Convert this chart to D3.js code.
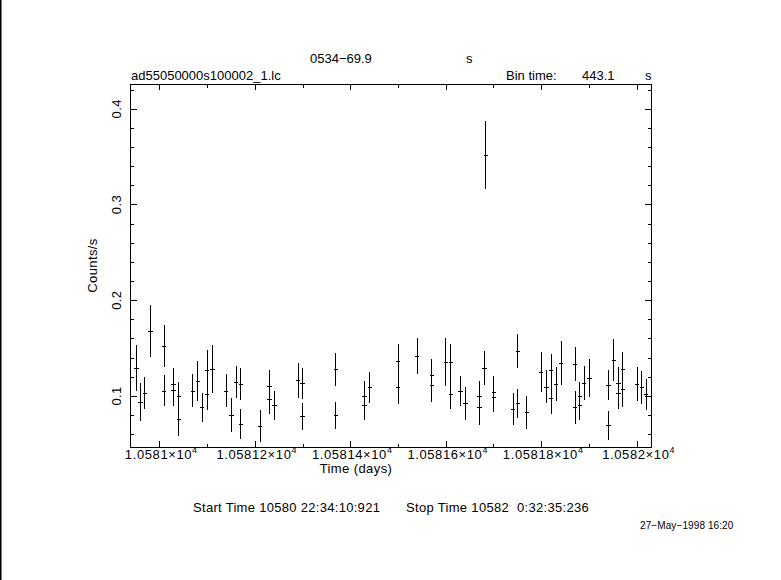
<!DOCTYPE html>
<html>
<head>
<meta charset="utf-8">
<script src="https://cdn.jsdelivr.net/npm/d3@7"></script>
<style>
  html, body { margin: 0; padding: 0; background: #fff; }
  svg { display: block; }
  text { font-family: "Liberation Sans", Arial, sans-serif; fill: #000; white-space: pre; }
</style>
</head>
<body>
<svg id="chart" width="781" height="580"></svg>
<script>
// ---- data (time in days, rate in counts/s, symmetric 1-sigma error) ----
const times = [
  10580.951, 10580.960, 10580.969, 10580.981, 10581.009, 10581.009, 10581.029, 10581.029,
  10581.040, 10581.040, 10581.069, 10581.080, 10581.089, 10581.099, 10581.099, 10581.110,
  10581.139, 10581.150, 10581.160, 10581.170, 10581.170, 10581.210, 10581.230, 10581.230,
  10581.240, 10581.290, 10581.299, 10581.299, 10581.369, 10581.369, 10581.429, 10581.429,
  10581.440, 10581.499, 10581.499, 10581.539, 10581.570, 10581.570, 10581.599, 10581.610,
  10581.610, 10581.630, 10581.640, 10581.670, 10581.670, 10581.680, 10581.683, 10581.700,
  10581.700, 10581.740, 10581.750, 10581.750, 10581.769, 10581.799, 10581.810, 10581.820,
  10581.820, 10581.830, 10581.841, 10581.870, 10581.870, 10581.880, 10581.880, 10581.889,
  10581.900, 10581.940, 10581.940, 10581.951, 10581.961, 10581.961, 10581.970, 10581.970,
  10582.000, 10582.010, 10582.019
];
const rates = [
  0.1288, 0.0933, 0.1030, 0.1678, 0.1518, 0.1054, 0.1124, 0.1062,
  0.0996, 0.0759, 0.1054, 0.1156, 0.0881, 0.1267, 0.1017, 0.1278,
  0.1054, 0.0800, 0.1145, 0.1124, 0.0706, 0.0685, 0.1107, 0.0968,
  0.0902, 0.1163, 0.1132, 0.0787, 0.1278, 0.0797, 0.0996, 0.0902,
  0.1090, 0.1362, 0.1090, 0.1414, 0.1215, 0.1111, 0.1354, 0.1354,
  0.1020, 0.1051, 0.0923, 0.0996, 0.0881, 0.1292, 0.3517, 0.1038,
  0.0989, 0.0863, 0.1469, 0.0923, 0.0829, 0.1250, 0.1098, 0.1271,
  0.0975, 0.1124, 0.1347, 0.1333, 0.0881, 0.0999, 0.0905, 0.1135,
  0.1187, 0.1114, 0.0693, 0.1372, 0.1132, 0.1027, 0.1281, 0.1069,
  0.1124, 0.1090, 0.1017
];
const errors = [
  0.024, 0.020, 0.017, 0.027, 0.022, 0.016, 0.017, 0.017,
  0.015, 0.018, 0.017, 0.021, 0.015, 0.021, 0.016, 0.025,
  0.017, 0.018, 0.017, 0.017, 0.016, 0.017, 0.016, 0.016,
  0.015, 0.018, 0.016, 0.014, 0.017, 0.014, 0.016, 0.015,
  0.016, 0.018, 0.017, 0.019, 0.017, 0.017, 0.025, 0.019,
  0.016, 0.016, 0.017, 0.016, 0.018, 0.018, 0.036, 0.017,
  0.016, 0.017, 0.018, 0.015, 0.017, 0.021, 0.017, 0.017,
  0.016, 0.018, 0.023, 0.018, 0.017, 0.015, 0.016, 0.018,
  0.020, 0.016, 0.015, 0.022, 0.017, 0.016, 0.018, 0.019,
  0.018, 0.017, 0.016
];
const binTimeSec = 443.1;

const xMajorTicks = [10581.0, 10581.2, 10581.4, 10581.6, 10581.8, 10582.0];
const xTickLabels = ["1.0581", "1.05812", "1.05814", "1.05816", "1.05818", "1.0582"];
const xMinorTicks = [10581.1, 10581.3, 10581.5, 10581.7, 10581.9];
const yMajorTicks = [0.1, 0.2, 0.3, 0.4];
const yTickLabels = ["0.1", "0.2", "0.3", "0.4"];
const yMinorTicks = [0.06, 0.08, 0.12, 0.14, 0.16, 0.18, 0.22, 0.24, 0.26, 0.28, 0.32, 0.34, 0.36, 0.38, 0.42];

const titleText = "0534\u221269.9";
const fileText = "ad55050000s100002_1.lc";

// ---- layout ----
const L = 130.5, R = 651, T = 84, B = 447;
const svg = d3.select("#chart");

const x = d3.scaleLinear().domain([10580.9397, 10582.0300]).range([L, R]);
const y = d3.scaleLinear().domain([0.0466, 0.4259]).range([B, T]);

// left edge black line
svg.append("rect").attr("x", 0).attr("y", 0).attr("width", 1.5).attr("height", 580).attr("fill", "#000");

// frame
svg.append("rect")
  .attr("x", L).attr("y", T).attr("width", R - L).attr("height", B - T)
  .attr("fill", "none").attr("stroke", "#000").attr("stroke-width", 1)
  .attr("shape-rendering", "crispEdges");

const g = svg.append("g").attr("stroke", "#000").attr("stroke-width", 1).attr("shape-rendering", "crispEdges");
const MAJ = 6, MIN = 3.5;

function xt(vals, len) {
  g.selectAll(null).data(vals).enter().append("line")
    .attr("x1", d => Math.round(x(d)) + 0.5).attr("x2", d => Math.round(x(d)) + 0.5)
    .attr("y1", B).attr("y2", B - len);
  g.selectAll(null).data(vals).enter().append("line")
    .attr("x1", d => Math.round(x(d)) + 0.5).attr("x2", d => Math.round(x(d)) + 0.5)
    .attr("y1", T).attr("y2", T + len);
}
xt(xMajorTicks, MAJ); xt(xMinorTicks, MIN);

function yt(vals, len) {
  g.selectAll(null).data(vals).enter().append("line")
    .attr("y1", d => Math.round(y(d)) + 0.5).attr("y2", d => Math.round(y(d)) + 0.5)
    .attr("x1", L).attr("x2", L + len);
  g.selectAll(null).data(vals).enter().append("line")
    .attr("y1", d => Math.round(y(d)) + 0.5).attr("y2", d => Math.round(y(d)) + 0.5)
    .attr("x1", R).attr("x2", R - len);
}
yt(yMajorTicks, MAJ); yt(yMinorTicks.filter(v => y(v) > T && y(v) < B), MIN);

// x tick labels
const xl = svg.selectAll(".xl").data(xMajorTicks).enter().append("text")
  .attr("class", "xl")
  .attr("x", d => x(d) + 2)
  .attr("y", 459)
  .attr("text-anchor", "middle")
  .attr("font-size", 13)
  .attr("letter-spacing", 0.6);
xl.append("tspan").text((d, i) => xTickLabels[i] + "\u00d710");
xl.append("tspan").attr("dy", -6).attr("font-size", 9).text("4");

// y tick labels (rotated)
svg.selectAll(".yl").data(yMajorTicks).enter().append("text")
  .attr("class", "yl")
  .attr("transform", d => `translate(121,${y(d)}) rotate(-90)`)
  .attr("text-anchor", "middle")
  .attr("font-size", 13)
  .attr("letter-spacing", 0.4)
  .text((d, i) => yTickLabels[i]);

// axis titles
svg.append("text").attr("transform", `translate(97,${(T + B) / 2}) rotate(-90)`)
  .attr("text-anchor", "middle").attr("font-size", 13).attr("letter-spacing", 0.4).text("Counts/s");
svg.append("text").attr("x", 356).attr("y", 473).attr("text-anchor", "middle")
  .attr("font-size", 13).attr("letter-spacing", 0.4).text("Time (days)");

// header texts
svg.append("text").attr("x", 310).attr("y", 63).attr("font-size", 13).text(titleText);
svg.append("text").attr("x", 466).attr("y", 63).attr("font-size", 13).text("s");
svg.append("text").attr("x", 131).attr("y", 80).attr("font-size", 13).text(fileText);
svg.append("text").attr("x", 506).attr("y", 80).attr("font-size", 13).text("Bin time:");
svg.append("text").attr("x", 582).attr("y", 80).attr("font-size", 13).text(String(binTimeSec));
svg.append("text").attr("x", 645).attr("y", 80).attr("font-size", 13).text("s");

// footer texts
svg.append("text").attr("x", 193).attr("y", 512).attr("font-size", 13).attr("letter-spacing", 0.3)
  .text("Start Time 10580 22:34:10:921");
svg.append("text").attr("x", 406).attr("y", 512).attr("font-size", 13).attr("letter-spacing", 0.32)
  .text("Stop Time 10582  0:32:35:236");
svg.append("text").attr("x", 640).attr("y", 529).attr("font-size", 10).attr("letter-spacing", 0.1)
  .text("27\u2212May\u22121998 16:20");

// data: error bars + bin-width ticks
const data = times.map((t, i) => ({ t, v: rates[i], e: errors[i] }));
const halfBin = binTimeSec / 86400 / 2;
const pts = svg.append("g").attr("stroke", "#000").attr("stroke-width", 1).attr("shape-rendering", "crispEdges");
pts.selectAll(".eb").data(data).enter().append("line")
  .attr("x1", d => Math.round(x(d.t)) + 0.5).attr("x2", d => Math.round(x(d.t)) + 0.5)
  .attr("y1", d => y(d.v + d.e)).attr("y2", d => y(d.v - d.e));
pts.selectAll(".bw").data(data).enter().append("line")
  .attr("x1", d => x(d.t - halfBin) - 0.5).attr("x2", d => x(d.t + halfBin) + 1.5)
  .attr("y1", d => Math.round(y(d.v)) + 0.5).attr("y2", d => Math.round(y(d.v)) + 0.5);
</script>
</body>
</html>
